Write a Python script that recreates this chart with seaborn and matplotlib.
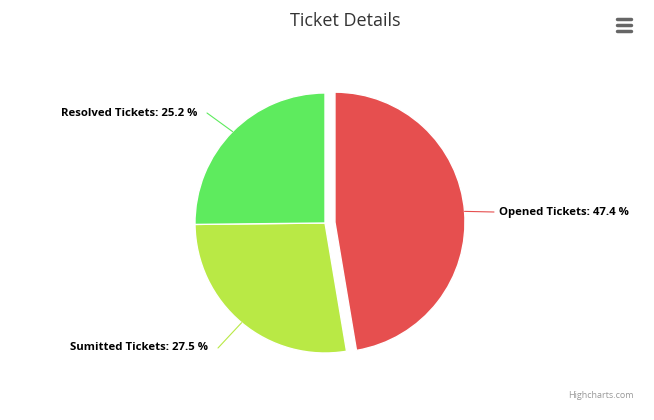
import numpy as np
import matplotlib
matplotlib.use("Agg")
import matplotlib.pyplot as plt
import seaborn as sns

labels = ["Opened Tickets", "Sumitted Tickets", "Resolved Tickets"]
values = [47.4, 27.5, 25.2]
colors = ["#E64F4F", "#B9E945", "#5EEB5E"]

sns.set_theme(style="white")
plt.rcParams['font.family'] = ['Open Sans', 'DejaVu Sans']

fig = plt.figure(figsize=(6.54, 4.2), dpi=100)
ax = fig.add_axes([0, 0, 1, 1])
ax.set_xlim(0, 654)
ax.set_ylim(0, 420)
ax.set_aspect('equal')
ax.axis('off')

cx, cy, r = 325, 197, 130
explode = [10, 0, 0]
wedges, _ = ax.pie(values, colors=colors, startangle=90, counterclock=False,
                   radius=r, center=(cx, cy), explode=explode,
                   wedgeprops=dict(edgecolor="white", linewidth=1))
ax.set_xlim(0, 654)
ax.set_ylim(0, 420)

label_pos = [(499, 208, 'left'), (208, 72, 'right'), (197, 307, 'right')]
for w, lab, v, (lx, ly, ha) in zip(wedges, labels, values, label_pos):
    ang = np.deg2rad((w.theta1 + w.theta2) / 2)
    ox, oy = w.center
    ex, ey = ox + r * np.cos(ang), oy + r * np.sin(ang)
    tx = lx - 5 if ha == 'left' else lx + 10
    ax.plot([ex, tx], [ey, ly], color=w.get_facecolor(), lw=0.8)
    ax.text(lx, ly, f"{lab}: {v} %", ha=ha, va='center', fontsize=8.2,
            fontweight='bold', color='black')

fig.text(345 / 654, 1 - 21 / 420, "Ticket Details", ha='center', va='center',
         fontsize=13, color='#333333')
fig.text(634 / 654, 1 - 396 / 420, "Highcharts.com", ha='right', va='center',
         fontsize=6.5, color='#999999')
for yy in (19, 25, 31):
    ax.plot([617, 631], [420 - yy, 420 - yy], color='#666666', lw=2.5,
            solid_capstyle='round')

fig.savefig("out.png", dpi=100, facecolor='white')
